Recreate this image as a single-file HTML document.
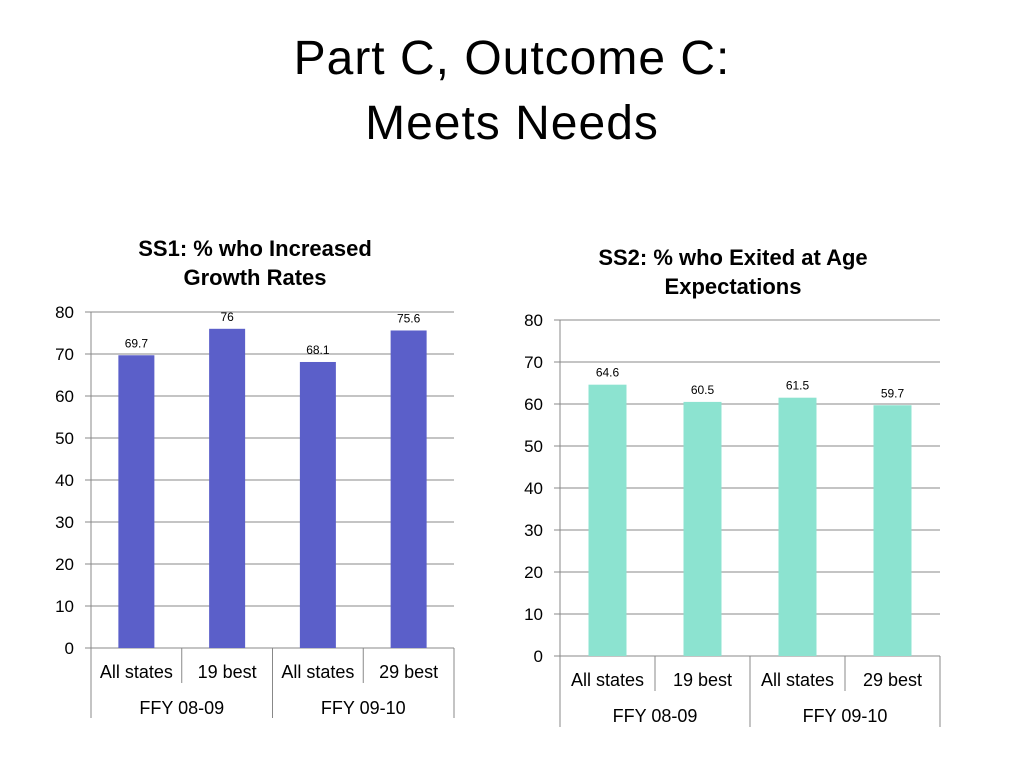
<!DOCTYPE html>
<html><head><meta charset="utf-8"><style>
body{margin:0;background:#fff;font-family:"Liberation Sans",sans-serif}
#t{position:absolute;left:0;width:1024px;top:26px;text-align:center;font-size:48px;line-height:65px;color:#000;letter-spacing:1px}
</style></head><body>
<div id="t">Part C, Outcome C:<br>Meets Needs</div>
<svg id="s" width="1024" height="768" style="position:absolute;left:0;top:0"></svg>
<script>
const categories=["All states","19 best","All states","29 best"];
const categories2=["All states","19 best","All states","29 best"];
const groups=["FFY 08-09","FFY 09-10"];
const ss1Values=[69.7,76,68.1,75.6];
const ss2Values=[64.6,60.5,61.5,59.7];
const yTicks=[0,10,20,30,40,50,60,70,80];
const NS="http://www.w3.org/2000/svg";
const svg=document.getElementById('s');
function mk(tag,attrs,parent){const e=document.createElementNS(NS,tag);for(const k in attrs)e.setAttribute(k,attrs[k]);(parent||svg).appendChild(e);return e;}
function chart(cfg){
  const g=mk('g',{});
  
  
  const y=v=>cfg.y0-(v/80)*(cfg.y0-cfg.y80);
  const cw=(cfg.x1-cfg.x0)/cfg.cats.length;
  const x=i=>cfg.x0+cw*(i+0.5);
  cfg.title.forEach((t,i)=>{const e=mk('text',{x:cfg.tx,y:cfg.ty+i*29,'text-anchor':'middle','font-size':22,'font-weight':'bold'},g);e.textContent=t;
    });
  yTicks.forEach(v=>{
    const l=mk('line',{x1:cfg.x0-6,x2:cfg.x1,y1:y(v),y2:y(v),stroke:'#888','stroke-width':1},g);
    
    const t=mk('text',{x:cfg.x0-17,y:y(v)+6,'text-anchor':'end','font-size':17},g);t.textContent=v;
    
  });
  mk('line',{x1:cfg.x0,x2:cfg.x0,y1:cfg.y80,y2:cfg.bottom,stroke:'#888'},g);
  cfg.values.forEach((v,i)=>{
    const r=mk('rect',{x:x(i)-cfg.bw/2,y:y(v),width:cfg.bw,height:y(0)-y(v),fill:cfg.color},g);
    
    const t=mk('text',{x:x(i),y:y(v)-8,'text-anchor':'middle','font-size':12},g);t.textContent=v;
    
    const c=mk('text',{x:x(i),y:y(0)+30,'text-anchor':'middle','font-size':18},g);c.textContent=cfg.cats[i];
    
  });
  for(let i=1;i<=cfg.cats.length;i++){
    const major=i%2===0;
    mk('line',{x1:cfg.x0+cw*i,x2:cfg.x0+cw*i,y1:y(0),y2:major?cfg.bottom:y(0)+35,stroke:'#888'},g);
  }
  groups.forEach((gname,j)=>{const t=mk('text',{x:cfg.x0+cw*(2*j+1),y:y(0)+66,'text-anchor':'middle','font-size':18},g);t.textContent=gname;
    });
}
chart({name:'ss1-chart',x0:91,x1:454,y0:648,y80:312,bottom:718,bw:36,color:'#5b5fc9',values:ss1Values,cats:categories,title:['SS1: % who Increased','Growth Rates'],tx:255,ty:256});
chart({name:'ss2-chart',x0:560,x1:940,y0:656,y80:320,bottom:727,bw:38,color:'#8ce3d0',values:ss2Values,cats:categories2,title:['SS2: % who Exited at Age','Expectations'],tx:733,ty:265});
</script>
</body></html>
